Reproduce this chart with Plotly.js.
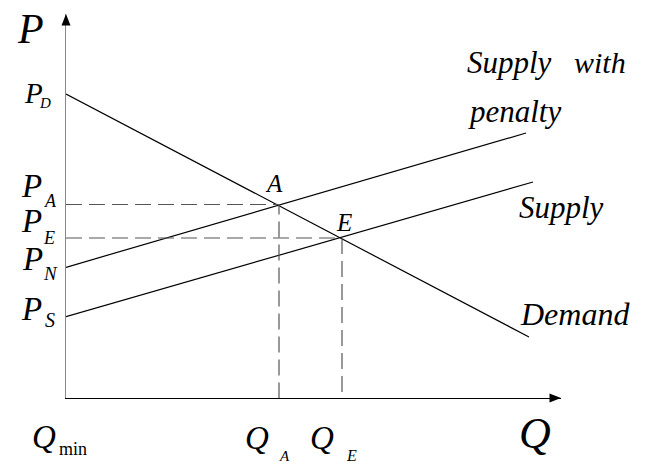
<!DOCTYPE html>
<html><head><meta charset="utf-8">
<script src="https://cdn.plot.ly/plotly-3.0.1.min.js"></script>
<style>
html,body{margin:0;padding:0;background:#fff}
#chart{width:647px;height:464px}
</style>
</head><body><div id="chart"></div>
<script>
// ---- data (quantity, price) ----
const demandQ = [0, 463];
const demandP = [304, 61];
const penaltyQ = [0, 460];
const penaltyP = [130.7, 265];
const supplyQ = [0, 467];
const supplyP = [81.3, 216];
const pointA = [213, 193.5];
const pointE = [276, 160];
const curveLabels = ['Supply', 'with', 'penalty', 'Supply', 'Demand'];
const priceSubs = ['D', 'A', 'E', 'N', 'S'];
const qtySubs = ['min', 'A', 'E'];
const pointNames = ['A', 'E'];

// ---- layout geometry ----
const W = 647, H = 464, L = 66, R = 86, T = 14, B = 66;
const pw = W - L - R, ph = H - T - B;
const SERIF = 'Liberation Serif';
function toPX(x){ return (x - L) / pw; }
function toPY(y){ return (H - B - y) / ph; }
function lab(text, x, y, size, xa){
  return {xref:'paper', yref:'paper', x:toPX(x), y:toPY(y), text:text, showarrow:false,
    xanchor: xa || 'center', yanchor:'middle',
    font:{family:SERIF, size:size, color:'#000'}};
}
const it = s => '<i>' + s + '</i>';

const solid = {color:'#000', width:1.2};
const dashed = {color:'#555', width:1.2, dash:'16px,7px'};
const traces = [
  {x:demandQ, y:demandP, mode:'lines', line:solid, cliponaxis:false},
  {x:penaltyQ, y:penaltyP, mode:'lines', line:solid, cliponaxis:false},
  {x:supplyQ, y:supplyP, mode:'lines', line:solid, cliponaxis:false},
  {x:[0, pointA[0], pointA[0]], y:[pointA[1], pointA[1], 0], mode:'lines', line:dashed, cliponaxis:false},
  {x:[0, pointE[0], pointE[0]], y:[pointE[1], pointE[1], 0], mode:'lines', line:dashed, cliponaxis:false}
];

const annotations = [
  lab(it('P'), 30, 29, 42),
  lab(it('P'), 33, 92.5, 29), lab(it(priceSubs[0]), 45, 102.5, 15),
  lab(it('P'), 31, 186, 33), lab(it(priceSubs[1]), 50, 201, 18),
  lab(it('P'), 31, 221, 33), lab(it(priceSubs[2]), 49, 237.5, 18),
  lab(it('P'), 32, 259, 33), lab(it(priceSubs[3]), 50, 273.5, 19),
  lab(it('P'), 31, 309, 33), lab(it(priceSubs[4]), 50, 320, 20),
  lab(it('Q'), 44, 437, 33), lab(qtySubs[0], 72.5, 449, 18),
  lab(it('Q'), 257, 438, 33), lab(it(qtySubs[1]), 284.5, 456, 15),
  lab(it('Q'), 321.5, 438, 33), lab(it(qtySubs[2]), 351, 455, 16),
  lab(it('Q'), 534.5, 433, 44),
  lab(it(pointNames[0]), 273.5, 183, 25),
  lab(it(pointNames[1]), 344, 222.5, 25),
  lab(it(curveLabels[0]), 465, 62, 31, 'left'),
  lab(it(curveLabels[1]), 572, 62, 30, 'left'),
  lab(it(curveLabels[2]), 466, 111.5, 31, 'left'),
  lab(it(curveLabels[3]), 517, 207, 31, 'left'),
  lab(it(curveLabels[4]), 518, 314, 32, 'left')
];

const shapes = [
  {type:'path', xref:'paper', yref:'paper', xsizemode:'pixel', ysizemode:'pixel',
   xanchor:0, yanchor:1, path:'M-4.5,-11.5 L4.5,-11.5 L0,0 Z', fillcolor:'#000', line:{width:0}},
  {type:'path', xref:'paper', yref:'paper', xsizemode:'pixel', ysizemode:'pixel',
   xanchor:1, yanchor:0, path:'M-11.5,-4.5 L-11.5,4.5 L0,0 Z', fillcolor:'#000', line:{width:0}}
];

const layout = {
  width:W, height:H, margin:{l:L, r:R, t:T, b:B, pad:0},
  paper_bgcolor:'#fff', plot_bgcolor:'#fff', showlegend:false,
  font:{family:SERIF, color:'#000'},
  xaxis:{range:[0, pw], showgrid:false, zeroline:false, showticklabels:false, ticks:'',
         showline:true, linecolor:'#000', linewidth:1, fixedrange:true},
  yaxis:{range:[0, ph], showgrid:false, zeroline:false, showticklabels:false, ticks:'',
         showline:true, linecolor:'#888', linewidth:1.5, fixedrange:true},
  annotations:annotations, shapes:shapes
};
Plotly.newPlot('chart', traces, layout, {staticPlot:true});
</script></body></html>
